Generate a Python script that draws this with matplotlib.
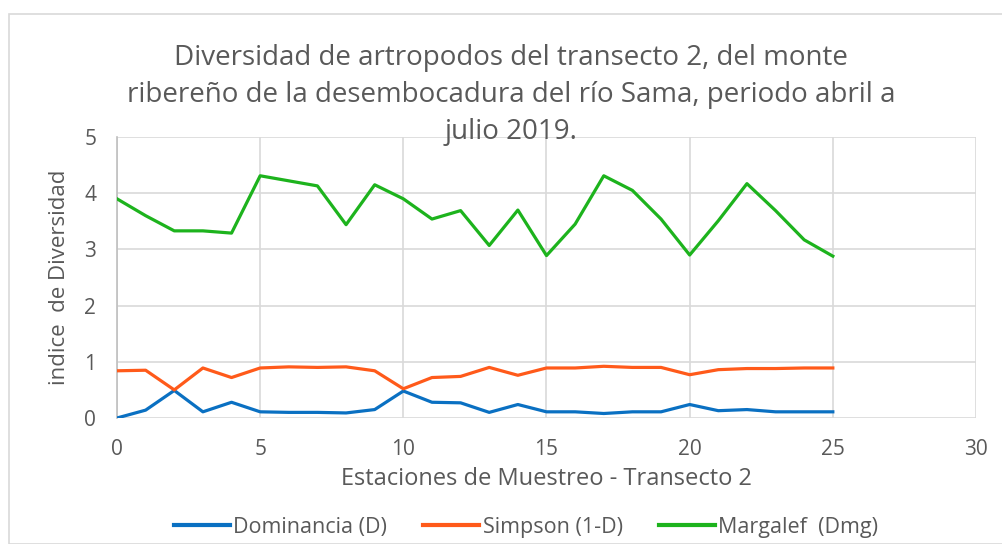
import matplotlib
matplotlib.use("Agg")
import matplotlib.pyplot as plt
from matplotlib.patches import Rectangle
from matplotlib.lines import Line2D

estaciones = list(range(26))
dominancia = [0.00, 0.14, 0.49, 0.11, 0.28, 0.11, 0.10, 0.10, 0.09, 0.15,
              0.48, 0.28, 0.27, 0.10, 0.24, 0.11, 0.11, 0.08, 0.11, 0.11,
              0.24, 0.13, 0.15, 0.11, 0.11, 0.11]
simpson = [0.84, 0.85, 0.50, 0.89, 0.72, 0.89, 0.91, 0.90, 0.91, 0.84,
           0.52, 0.72, 0.74, 0.90, 0.76, 0.89, 0.89, 0.92, 0.90, 0.90,
           0.77, 0.86, 0.88, 0.88, 0.89, 0.89]
margalef = [3.90, 3.60, 3.33, 3.33, 3.29, 4.31, 4.22, 4.13, 3.44, 4.15,
            3.90, 3.54, 3.69, 3.07, 3.70, 2.89, 3.45, 4.31, 4.05, 3.54,
            2.90, 3.51, 4.17, 3.69, 3.17, 2.88]
series_names = ["Dominancia (D)", "Simpson (1-D)", "Margalef  (Dmg)"]
colors = ["#0A70C2", "#FF5A1A", "#1DB31D"]
title = ("Diversidad de artropodos del transecto 2, del monte\n"
         "ribereño de la desembocadura del río Sama, periodo abril a\n"
         "julio 2019.")
x_ticks = [0, 5, 10, 15, 20, 25, 30]
y_ticks = [0, 1, 2, 3, 4, 5]

W, H = 1003, 544
fig = plt.figure(figsize=(W / 100, H / 100), dpi=100)
txt = "#595959"
font = ["Open Sans", "DejaVu Sans"]

# outer chart border
fig.patches.append(Rectangle((9 / W, 0), 1.0, 1 - 14 / H, transform=fig.transFigure,
                             fill=False, edgecolor="#D9D9D9", linewidth=1.2))

ax = fig.add_axes([117 / W, 1 - 418 / H, (976 - 117) / W, (418 - 137) / H])
for name, vals, c in zip(series_names, [dominancia, simpson, margalef], colors):
    ax.plot(estaciones, vals, color=c, linewidth=2.3, label=name, solid_joinstyle="round", zorder=3)

ax.set_xlim(0, 30)
ax.set_ylim(0, 5)
ax.set_xticks(x_ticks)
ax.set_yticks(y_ticks)
ax.grid(True, color="#D9D9D9", linewidth=1.2, zorder=0)
for s in ax.spines.values():
    s.set_visible(False)
ax.spines["left"].set_visible(True)
ax.spines["left"].set_color("#BFBFBF")
ax.spines["left"].set_linewidth(1.2)
ax.tick_params(length=0, colors=txt, labelsize=15)
ax.tick_params(axis="y", pad=15)
ax.tick_params(axis="x", pad=15)
for lab in ax.get_xticklabels() + ax.get_yticklabels():
    lab.set_family(font)
ax.set_xlabel("Estaciones de Muestreo - Transecto 2", fontsize=17, color=txt, family=font, labelpad=5)
ax.set_ylabel("indice  de Diversidad", fontsize=16, color=txt, family=font, labelpad=10)

fig.text(511 / W, 1 - 95 / H, title, ha="center", va="center", fontsize=20,
         color=txt, family=font, linespacing=1.45)

handles = [Line2D([], [], color=c, linewidth=3) for c in colors]
fig.legend(handles, series_names, loc="center", bbox_to_anchor=(526 / W, 1 - 527 / H),
           ncol=3, frameon=False, handlelength=2.6, handletextpad=0.15,
           columnspacing=1.7, labelcolor=txt, prop={"family": font, "size": 15.5})

fig.savefig("out.png", dpi=100)
